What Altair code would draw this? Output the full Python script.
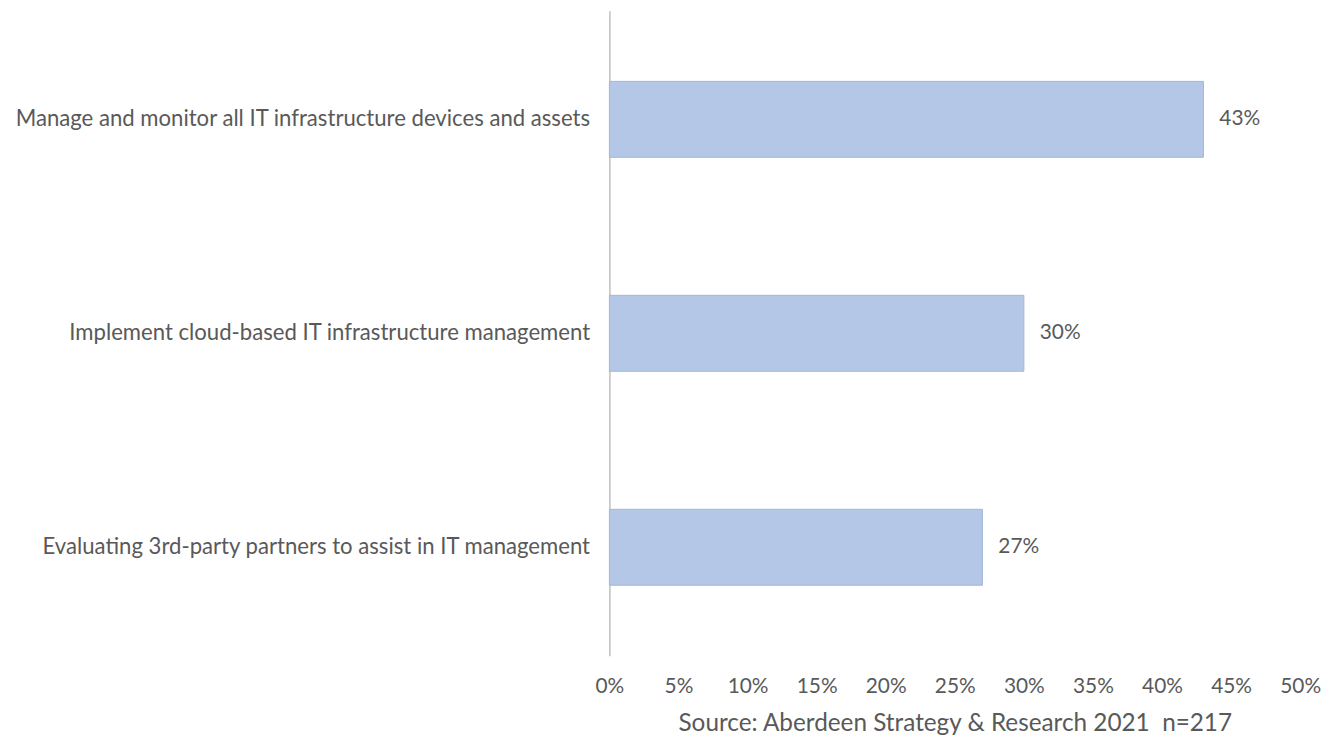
import altair as alt
import pandas as pd

categories = [
    "Manage and monitor all IT infrastructure devices and assets",
    "Implement cloud-based IT infrastructure management",
    "Evaluating 3rd-party partners to assist in IT management",
]
values = [0.43, 0.30, 0.27]
value_labels = ["43%", "30%", "27%"]
x_ticks = [0, 0.05, 0.10, 0.15, 0.20, 0.25, 0.30, 0.35, 0.40, 0.45, 0.50]
source = "Source: Aberdeen Strategy & Research 2021\u00a0 n=217"

df = pd.DataFrame({"cat": categories, "val": values, "lab": value_labels})

FONT = "Lato"
GREY = "#595959"

y_enc = alt.Y(
    "cat:N",
    sort=categories,
    scale=alt.Scale(paddingInner=0.645, paddingOuter=0.33),
    axis=alt.Axis(
        title=None,
        domain=True,
        domainColor="#bfbfbf",
        domainWidth=1.5,
        ticks=False,
        grid=False,
        labelFont=FONT,
        labelFontSize=22.3,
        labelColor=GREY,
        labelPadding=20,
        labelLimit=700,
    ),
)

x_enc = alt.X(
    "val:Q",
    scale=alt.Scale(domain=[0, 0.5], nice=False),
    axis=alt.Axis(
        values=x_ticks,
        format=".0%",
        grid=False,
        domain=False,
        ticks=False,
        labelFlush=False,
        labelFont=FONT,
        labelFontSize=21,
        labelColor=GREY,
        labelPadding=20,
        title=source,
        titleFont=FONT,
        titleFontSize=24.5,
        titleFontWeight="normal",
        titleColor=GREY,
        titlePadding=15,
    ),
)

bars = alt.Chart(df).mark_bar(
    color="#b4c7e7", stroke="#a3b6d8", strokeWidth=1
).encode(x=x_enc, y=y_enc)

texts = alt.Chart(df).mark_text(
    align="left", baseline="middle", dx=16, font=FONT, fontSize=21, color=GREY
).encode(x=x_enc, y=y_enc, text="lab:N")

chart = (
    (bars + texts)
    .properties(
        width=696,
        height=650,
        background="white",
        padding={"left": 6, "top": 0, "right": 0, "bottom": 0},
    )
    .configure_view(stroke="transparent", strokeWidth=0)
)

chart.save("out.html", embed_options={"renderer": "svg", "actions": False})
